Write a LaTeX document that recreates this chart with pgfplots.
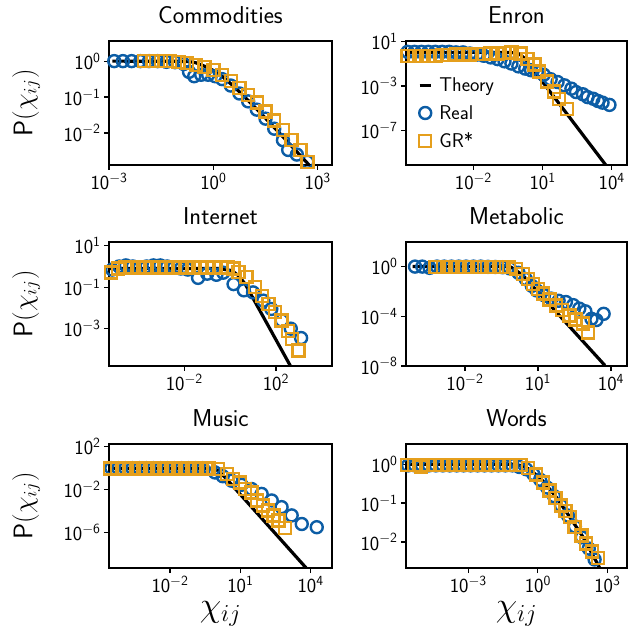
\RequirePackage{fix-cm}
\documentclass[border=0pt]{standalone}
\usepackage{pgfplots}
\pgfplotsset{compat=1.18}
\renewcommand{\familydefault}{\sfdefault}
\definecolor{realc}{HTML}{0C5DA5}
\definecolor{grc}{HTML}{E59F1C}
\newcommand{\tf}{\fontsize{20}{24}\selectfont}
\newcommand{\ttl}{\fontsize{24.5}{29}\selectfont}
\newcommand{\lf}{\fontsize{27}{32}\selectfont}
\newcommand{\xlf}{\fontsize{35}{40}\selectfont}
\pgfplotsset{
  panel/.style={
    scale only axis, anchor=south west,
    height=124bp,
    axis line style={line width=1.2bp},
    every tick/.style={black, line width=1.2bp},
    major tick length=5bp,
    tick align=outside, tick pos=left,
    xminorticks=false, yminorticks=false,
    tick label style={font=\tf},
    title style={font=\ttl, at={(0.5,1)}, anchor=base, yshift=12bp},
    ylabel style={font=\lf, at={(axis description cs:-0.372,0.5)}, anchor=center},
    xlabel style={font=\xlf, at={(axis description cs:0.5,-0.37)}, anchor=center},
  },
  real/.style={only marks, mark=o, mark size=6bp, mark options={line width=2.4bp, draw=realc, solid}, draw=realc},
  gr/.style={only marks, mark=square, mark size=6bp, mark options={line width=2.4bp, draw=grc, solid}, draw=grc},
  theory/.style={black, line width=3.2bp, no marks},
}
\begin{document}
\begin{tikzpicture}
\path[use as bounding box] (0bp,0bp) rectangle (637bp,631bp);
% ---------------- Commodities
\begin{loglogaxis}[panel, at={(109bp,466bp)}, width=223bp, title={Commodities},
  xmin=1e-3, xmax=2.57e3, ymin=1.29e-3, ymax=3.63,
  xtick={1e-3,1,1e3}, xticklabels={$\mathsf{10^{-3}}$,$\mathsf{10^{0}}$,$\mathsf{10^{3}}$},
  ytick={1e-2,1e-1,1}, yticklabels={$\mathsf{10^{-2}}$,$\mathsf{10^{-1}}$,$\mathsf{10^{0}}$},
  ylabel={$\mathsf{P}(\chi_{ij})$}]
\addplot[real] coordinates {(1.413e-3,1) (2.512e-3,1) (4.467e-3,1) (7.943e-3,1) (1.413e-2,1) (2.512e-2,1) (4.467e-2,0.955) (7.943e-2,0.933) (0.1413,0.832) (0.1995,0.501) (0.2818,0.380) (0.4467,0.417) (0.7079,0.417) (1.122,0.380) (1.778,0.3162) (3.162,0.2089) (5.623,0.1259) (10,0.0759) (17.78,0.04467) (31.62,0.02512) (56.23,0.01318) (100,6.31e-3) (141.3,3.388e-3) (251.2,2.512e-3) (501.2,1.585e-3)};
\addplot[gr] coordinates {(0.01,1) (0.01778,1) (0.03162,1) (0.05623,1) (0.1,0.955) (0.1778,0.891) (0.3162,0.794) (0.5623,0.676) (1,0.562) (1.778,0.417) (3.162,0.2754) (5.623,0.1778) (10,0.1122) (17.78,0.0708) (31.62,0.0398) (56.23,0.02239) (100,0.01202) (177.8,6.31e-3) (316.2,3.311e-3) (501.2,1.585e-3)};
\addplot[theory] coordinates {(1.259e-3,1.0) (0.1,0.99) (0.1995,0.97) (0.3162,0.9) (0.5623,0.72) (1,0.55) (1.778,0.38) (3.162,0.235) (5.623,0.14) (10,0.0807) (17.78,0.046) (31.62,0.02576) (100,0.00786) (316.2,0.002363) (562.3,0.001294)};
\end{loglogaxis}
% ---------------- Enron
\begin{loglogaxis}[panel, at={(406bp,466bp)}, width=221bp, title={Enron},
  xmin=1.202e-5, xmax=4.571e4, ymin=8.318e-11, ymax=10.47,
  xtick={1e-2,1e1,1e4}, xticklabels={$\mathsf{10^{-2}}$,$\mathsf{10^{1}}$,$\mathsf{10^{4}}$},
  ytick={1e-7,1e-3,1e1}, yticklabels={$\mathsf{10^{-7}}$,$\mathsf{10^{-3}}$,$\mathsf{10^{1}}$},
  legend style={at={(0.04,0.735)}, anchor=north west, draw=none, fill=none, font=\tf, row sep=8bp, legend cell align=left,
    /tikz/every odd column/.append style={column sep=5bp}}]
\addlegendimage{black, legend image code/.code={\draw[black,line width=3.2bp] (0.5bp,0bp) -- (11.5bp,0bp);}}
\addlegendentry{Theory}
\addlegendimage{realc, legend image code/.code={\draw[realc,line width=2.4bp] (6bp,0bp) circle (6bp);}}
\addlegendentry{Real}
\addlegendimage{grc, legend image code/.code={\draw[grc,line width=2.4bp] (0bp,-6bp) rectangle (12bp,6bp);}}
\addlegendentry{GR*}
\addplot[real, forget plot] coordinates {(1.413e-5,1.122) (2.818e-5,1.122) (5.623e-5,1.122) (1.122e-4,1.122) (2.239e-4,1.122) (4.467e-4,1.122) (8.913e-4,1.122) (1.778e-3,1) (3.548e-3,1) (7.079e-3,0.794) (1.413e-2,0.631) (2.818e-2,0.501) (5.623e-2,0.355) (0.1122,0.251) (0.2239,0.158) (0.4467,0.1) (0.8913,0.0562) (1.778,0.0355) (3.162,0.0251) (5.623,0.01778) (11.22,0.01) (22.39,3.981e-3) (44.67,2.239e-3) (89.13,1.122e-3) (177.8,5.623e-4) (281.8,2.818e-4) (562.3,1.778e-4) (891.3,1e-4) (1585,7.079e-5) (2512,4.467e-5) (3981,3.162e-5) (7943,1.995e-5)};
\addplot[gr, forget plot] coordinates {(1.413e-5,0.447) (2.818e-5,0.447) (5.623e-5,0.501) (1.122e-4,0.501) (2.239e-4,0.501) (4.467e-4,0.562) (8.913e-4,0.562) (1.778e-3,0.631) (3.548e-3,0.631) (7.079e-3,0.631) (1.413e-2,0.708) (2.818e-2,0.708) (5.623e-2,0.794) (0.1122,0.794) (0.2239,0.891) (0.4467,1) (1.122,0.794) (2.239,0.251) (4.467,0.0794) (7.079,0.01995) (15.85,2.512e-3) (31.62,3.162e-4) (50.12,7.079e-5) (112.2,8.913e-6)};
\addplot[theory, forget plot] coordinates {(1.259e-5,1) (0.1,1) (0.5012,0.955) (1,0.724) (1.585,0.3162) (2.818,0.0708) (100,4.467e-6) (6310,5.623e-11)};
\end{loglogaxis}
% ---------------- Internet
\begin{loglogaxis}[panel, at={(109bp,265bp)}, width=223bp, title={Internet},
  xmin=5.129e-6, xmax=2.818e4, ymin=1.585e-5, ymax=15.14,
  xtick={1e-2,1e2}, xticklabels={$\mathsf{10^{-2}}$,$\mathsf{10^{2}}$},
  ytick={1e-3,1e-1,1e1}, yticklabels={$\mathsf{10^{-3}}$,$\mathsf{10^{-1}}$,$\mathsf{10^{1}}$},
  ylabel={$\mathsf{P}(\chi_{ij})$}]
\addplot[real] coordinates {(7.079e-6,0.708) (1.413e-5,1) (2.818e-5,1.122) (5.623e-5,1) (1.122e-4,0.891) (2.239e-4,1) (4.467e-4,1.122) (8.913e-4,1.122) (1.778e-3,1) (3.548e-3,0.891) (7.079e-3,0.794) (1.413e-2,0.708) (3.981e-2,0.282) (0.1,0.447) (0.2512,0.398) (0.501,0.501) (1.413,0.1413) (3.981,0.0708) (10,0.0562) (28.18,0.02239) (63.1,8.913e-3) (177.8,2.512e-3) (446.7,1e-3) (1259,3.548e-4)};
\addplot[gr] coordinates {(6.31e-6,0.501) (1.259e-5,0.794) (2.512e-5,0.891) (5.012e-5,0.891) (1e-4,0.891) (1.995e-4,0.891) (3.981e-4,0.891) (7.943e-4,0.891) (1.585e-3,0.891) (3.162e-3,0.891) (6.31e-3,0.891) (1.259e-2,0.891) (2.512e-2,0.891) (5.012e-2,0.891) (0.1,0.891) (0.1995,0.891) (0.3981,0.891) (0.7943,0.891) (1.413,0.794) (2.291,0.525) (5.248,0.302) (12.3,0.1) (23.99,0.0389) (46.77,0.01549) (91.2,6.166e-3) (177.8,2.455e-3) (346.7,7.943e-4) (489.8,3.162e-4) (955,8.71e-5)};
\addplot[theory] coordinates {(5.623e-6,0.794) (0.3162,0.794) (1.202,0.631) (2.344,0.355) (4.571,0.1413) (501.2,1.175e-5)};
\end{loglogaxis}
% ---------------- Metabolic
\begin{loglogaxis}[panel, at={(406bp,265bp)}, width=221bp, title={Metabolic},
  xmin=3.802e-5, xmax=4.571e4, ymin=1e-8, ymax=95.5,
  xtick={1e-2,1e1,1e4}, xticklabels={$\mathsf{10^{-2}}$,$\mathsf{10^{1}}$,$\mathsf{10^{4}}$},
  ytick={1e-8,1e-4,1}, yticklabels={$\mathsf{10^{-8}}$,$\mathsf{10^{-4}}$,$\mathsf{10^{0}}$}]
\addplot[real] coordinates {(8.913e-5,1) (1.778e-4,1) (3.548e-4,0.794) (7.079e-4,1) (1.413e-3,1) (2.818e-3,1) (5.623e-3,1) (1.122e-2,1) (2.239e-2,1) (4.467e-2,1) (8.913e-2,0.955) (0.1778,0.933) (0.3548,0.891) (0.7079,0.708) (1.585,0.3162) (3.162,0.1) (5.623,0.02818) (8.913,0.01202) (17.78,5.012e-3) (35.48,2.63e-3) (70.79,1.778e-3) (141.3,1.413e-3) (281.8,7.943e-4) (501.2,4.169e-4) (891.3,2.512e-4) (1585,6.31e-5) (2512,5.012e-5) (5012,1.585e-4)};
\addplot[gr] coordinates {(6.31e-4,0.891) (1.259e-3,0.891) (2.512e-3,0.891) (5.012e-3,0.891) (1e-2,0.891) (1.995e-2,0.891) (3.981e-2,0.891) (7.943e-2,0.891) (0.1585,0.891) (0.3162,0.891) (0.631,0.891) (1.259,0.631) (2.399,0.263) (3.981,0.1) (6.166,0.0417) (10,0.01585) (16.22,6.607e-3) (30.2,2.239e-3) (56.23,7.586e-4) (100,3.162e-4) (199.5,1.202e-4) (354.8,5.623e-5) (707.9,2.63e-5) (1122,5.012e-6)};
\addplot[theory] coordinates {(7.079e-5,1) (0.501,1) (0.794,0.891) (1.288,0.479) (1.995,0.251) (2.818,0.1413) (5623,1.122e-8)};
\end{loglogaxis}
% ---------------- Music
\begin{loglogaxis}[panel, at={(109bp,63bp)}, width=223bp, title={Music},
  xmin=2.512e-5, xmax=8.128e4, ymin=5.012e-10, ymax=177.8,
  xtick={1e-2,1e1,1e4}, xticklabels={$\mathsf{10^{-2}}$,$\mathsf{10^{1}}$,$\mathsf{10^{4}}$},
  ytick={1e-6,1e-2,1e2}, yticklabels={$\mathsf{10^{-6}}$,$\mathsf{10^{-2}}$,$\mathsf{10^{2}}$},
  ylabel={$\mathsf{P}(\chi_{ij})$}, xlabel={$\chi_{ij}$}]
\addplot[real] coordinates {(3.162e-5,1) (6.31e-5,1) (1.259e-4,1) (2.512e-4,1) (5.012e-4,1) (1e-3,1) (1.995e-3,1) (3.981e-3,1) (7.943e-3,1) (1.585e-2,1) (3.162e-2,1) (6.31e-2,1) (0.1259,1) (0.2512,1) (0.5012,0.95) (0.8318,0.398) (1.778,0.1778) (4.266,0.0676) (11.22,0.02818) (30.2,0.01148) (81.28,3.981e-3) (218.8,9.772e-4) (575.4,2.344e-4) (1549,3.981e-5) (4169,6.31e-6) (18197,3.162e-6)};
\addplot[gr] coordinates {(2.818e-5,0.95) (5.623e-5,0.95) (1.122e-4,0.95) (2.239e-4,0.95) (4.467e-4,0.95) (8.913e-4,0.95) (1.778e-3,0.95) (3.548e-3,0.95) (7.079e-3,0.95) (1.413e-2,0.95) (2.818e-2,0.95) (5.623e-2,0.95) (0.1122,0.95) (0.2239,0.95) (0.4467,0.95) (1.148,0.794) (2.63,0.2818) (5.012,0.0977) (9.55,0.04786) (15.85,0.01148) (30.2,5.623e-3) (50.12,9.772e-4) (95.5,3.311e-4) (154.9,1.148e-4) (257,3.981e-5) (416.9,1.38e-5) (794.3,2.512e-6)};
\addplot[theory] coordinates {(3.802e-5,1) (0.4266,1) (0.7079,0.933) (1.148,0.575) (2.239,0.138) (7079,3.981e-10)};
\end{loglogaxis}
% ---------------- Words
\begin{loglogaxis}[panel, at={(406bp,63bp)}, width=221bp, title={Words},
  xmin=2.042e-6, xmax=7079, ymin=2.138e-3, ymax=3.311,
  xtick={1e-3,1,1e3}, xticklabels={$\mathsf{10^{-3}}$,$\mathsf{10^{0}}$,$\mathsf{10^{3}}$},
  ytick={1e-2,1e-1,1}, yticklabels={$\mathsf{10^{-2}}$,$\mathsf{10^{-1}}$,$\mathsf{10^{0}}$},
  xlabel={$\chi_{ij}$}]
\addplot[real] coordinates {(2.512e-6,0.933) (5.012e-6,0.933) (1e-5,0.933) (1.995e-5,0.933) (3.981e-5,0.933) (7.943e-5,0.933) (1.585e-4,0.933) (3.162e-4,0.933) (6.31e-4,0.933) (1.259e-3,0.933) (2.512e-3,0.933) (5.012e-3,0.933) (0.01,0.933) (0.01995,0.933) (0.03981,0.933) (0.07943,0.933) (0.1585,0.851) (0.3162,0.741) (0.631,0.562) (1.259,0.398) (2.512,0.2512) (5.012,0.1514) (10,0.0871) (19.95,0.04786) (39.81,0.02512) (79.43,0.01318) (158.5,6.761e-3) (281.8,3.548e-3)};
\addplot[gr] coordinates {(2.239e-6,0.955) (4.467e-6,0.955) (8.913e-6,0.85) (1.778e-5,0.955) (3.548e-5,0.955) (7.079e-5,0.955) (1.413e-4,0.955) (2.818e-4,0.955) (5.623e-4,0.955) (1.122e-3,0.955) (2.239e-3,0.955) (4.467e-3,0.955) (8.913e-3,0.955) (1.778e-2,0.955) (3.548e-2,0.955) (7.079e-2,0.955) (0.1778,0.955) (0.3802,0.813) (0.8511,0.5495) (1.66,0.3388) (3.236,0.2089) (5.754,0.1349) (10.23,0.0871) (15.85,0.0631) (23.99,0.04365) (38.9,0.02399) (75.86,0.01479) (123,9.12e-3) (223.9,5.623e-3) (398.1,3.802e-3)};
\addplot[theory] coordinates {(2.089e-6,1) (0.0851,1) (0.1995,0.912) (0.4467,0.741) (1.66,0.3715) (6.31,0.1413) (23.99,0.04365) (89.13,0.01349) (398.1,2.57e-3) (478.6,2.089e-3)};
\end{loglogaxis}
\end{tikzpicture}
\end{document}
